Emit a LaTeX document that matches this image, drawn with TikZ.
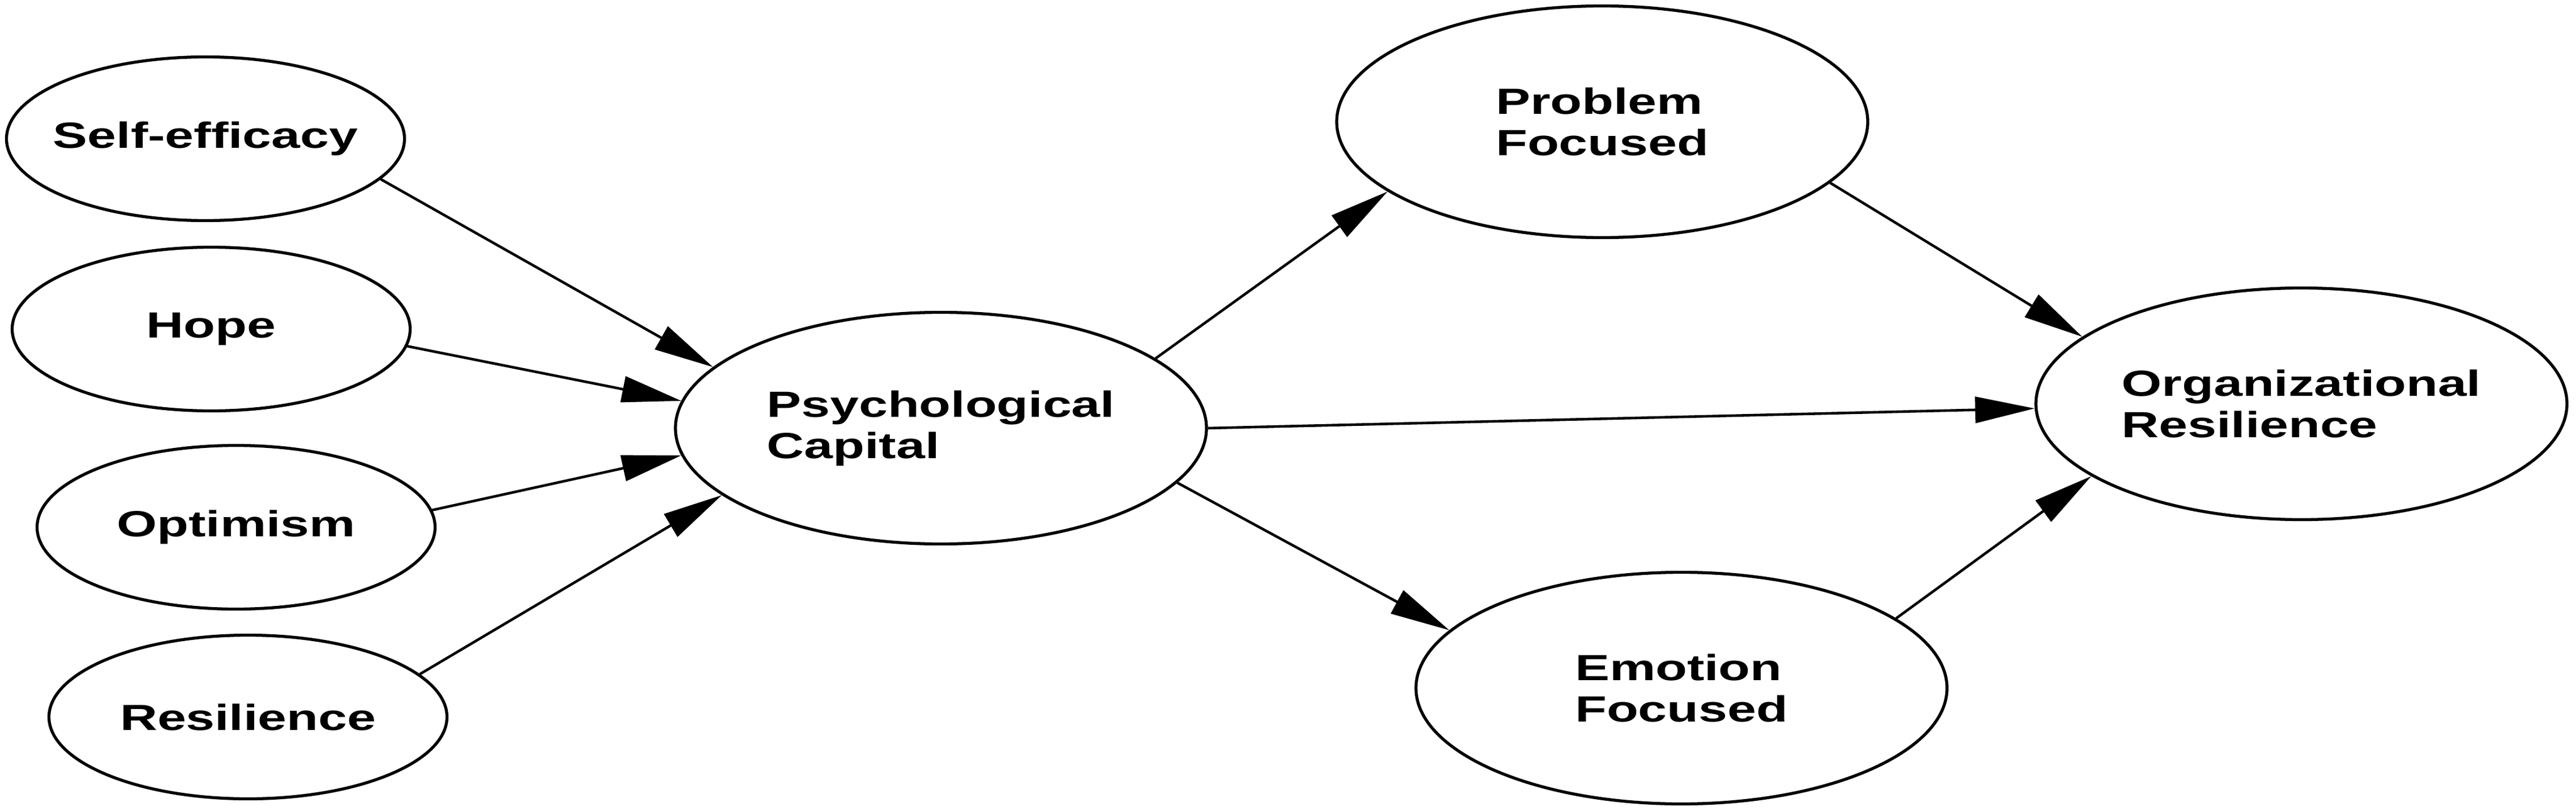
\documentclass[tikz,border=0pt]{standalone}
\usepackage{fontspec}
\newfontfamily\diagfont[FakeStretch=1.42]{Liberation Sans}
\usetikzlibrary{shapes.geometric, arrows.meta}

\begin{document}
\begin{tikzpicture}[
    factor/.style={draw, ellipse, line width=1.5pt, minimum width=7.03cm, minimum height=2.89cm},
    construct/.style={draw, ellipse, line width=1.5pt, minimum width=9.38cm, minimum height=4.09cm},
    tag/.style={font=\diagfont\bfseries\fontsize{18.3pt}{20.7pt}\selectfont, align=left, inner sep=0pt},
    link/.style={-{Triangle[length=1.05cm, width=0.46cm]}, line width=1.3pt}
]
    \useasboundingbox (0,0) rectangle (45.5,-14.32);

    % Dimensions
    \node[factor] (selfeff) at (3.63,-2.45) {};
    \node[tag] (selfeff-t) at (selfeff) {Self-efficacy};

    \node[factor] (hope) at (3.73,-5.81) {};
    \node[tag] (hope-t) at (hope) {Hope};

    \node[factor] (optim) at (4.17,-9.31) {};
    \node[tag] (optim-t) at (optim) {Optimism};

    \node[factor] (resil) at (4.38,-12.66) {};
    \node[tag] (resil-t) at (resil) {Resilience};

    % Constructs
    \node[construct] (psycap) at (16.62,-7.56) {};
    \node[tag] (psycap-t) at (psycap) {Psychological\\Capital};

    \node[construct] (problem) at (28.30,-2.15) {};
    \node[tag] (problem-t) at (problem) {Problem\\Focused};

    \node[construct] (emotion) at (29.70,-12.15) {};
    \node[tag] (emotion-t) at (emotion) {Emotion\\Focused};

    \node[construct] (orgres) at (40.65,-7.13) {};
    \node[tag] (orgres-t) at (orgres) {Organizational\\Resilience};

    % Paths
    \draw[link] (selfeff.-13.5) -- (psycap.165.4);
    \draw[link] (hope.-5.1) -- (psycap.174.6);
    \draw[link] (optim.5.1) -- (psycap.-174);
    \draw[link] (resil.14.3) -- (psycap.-163.9);

    \draw[link] (psycap.18.3) -- (problem.-162.3);
    \draw[link] (psycap.0.6) -- (orgres.-179.3);
    \draw[link] (psycap.-13.8) -- (emotion.166.4);

    \draw[link] (problem.-15.3) -- (orgres.163.9);
    \draw[link] (emotion.18.7) -- (orgres.-161.7);

\end{tikzpicture}
\end{document}
